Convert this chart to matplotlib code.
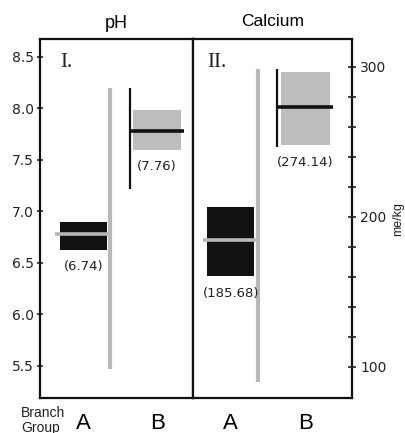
import matplotlib.pyplot as plt
from matplotlib.ticker import FixedLocator

groups = ['A', 'B']

# pH (panel I)
ph_box_low = [6.63, 7.60]
ph_box_high = [6.90, 7.98]
ph_mean_line = [6.78, 7.785]
ph_range_low = [5.47, 7.22]
ph_range_high = [8.20, 8.20]
ph_labels = ['(6.74)', '(7.76)']

# Calcium (panel II)
ca_box_low = [160.7, 248.0]
ca_box_high = [206.9, 296.4]
ca_mean_line = [184.4, 273.3]
ca_range_low = [90.0, 246.5]
ca_range_high = [298.7, 298.7]
ca_labels = ['(185.68)', '(274.14)']
ca_minor = [120, 140, 160, 180, 220, 240, 260, 280]

SANS = 'Liberation Sans'
NUM = 'DejaVu Sans'
BLACK = '#111111'
GRAY = '#bdbdbd'
LGRAY = '#b8b8b8'

fig = plt.figure(figsize=(4.05, 4.33), dpi=100)
ax1 = fig.add_axes([0.0988, 0.081, 0.3778, 0.828])
ax2 = fig.add_axes([0.4765, 0.081, 0.3926, 0.828])

# layout in axes x (0..1): box left/right, whisker x, mean line left/right
layout1 = {'box': [(0.131, 0.438), (0.608, 0.922)],
           'whisk': [0.458, 0.588],
           'line': [(0.098, 0.458), (0.588, 0.941)]}
layout2 = {'box': [(0.090, 0.386), (0.553, 0.862)],
           'whisk': [0.410, 0.526],
           'line': [(0.063, 0.409), (0.526, 0.883)]}

box_colors = [BLACK, GRAY]
line_colors = [LGRAY, BLACK]
whisk_colors = [LGRAY, BLACK]
whisk_widths = [3.0, 1.6]
line_widths = [2.6, 2.6]


def draw_panel(ax, lay, lo, hi, mean, rlo, rhi, labels):
    ax.set_xlim(0, 1)
    centers = []
    for i in range(len(groups)):
        x0, x1 = lay['box'][i]
        c = (x0 + x1) / 2
        centers.append(c)
        ax.bar(c, hi[i] - lo[i], bottom=lo[i], width=x1 - x0,
               color=box_colors[i], zorder=2)
        ax.vlines(lay['whisk'][i], rlo[i], rhi[i], color=whisk_colors[i],
                  lw=whisk_widths[i], zorder=3)
        l0, l1 = lay['line'][i]
        ax.hlines(mean[i], l0, l1, color=line_colors[i], lw=line_widths[i],
                  zorder=4)
        ax.annotate(labels[i], (c, lo[i]), xytext=(0, -12.5),
                    textcoords='offset points', ha='center', va='center',
                    fontsize=9.5, family=NUM, color='#222222')
    ax.set_xticks(centers)
    ax.set_xticklabels(groups, fontsize=16, family=SANS)
    ax.tick_params(axis='x', length=0, pad=10.5)
    for s in ax.spines.values():
        s.set_linewidth(1.6)
        s.set_color(BLACK)


draw_panel(ax1, layout1, ph_box_low, ph_box_high, ph_mean_line,
           ph_range_low, ph_range_high, ph_labels)
draw_panel(ax2, layout2, ca_box_low, ca_box_high, ca_mean_line,
           ca_range_low, ca_range_high, ca_labels)

ax1.set_ylim(5.19, 8.67)
ax1.set_yticks([5.5, 6.0, 6.5, 7.0, 7.5, 8.0, 8.5])
ax1.set_yticklabels(['5.5', '6.0', '6.5', '7.0', '7.5', '8.0', '8.5'],
                    family=NUM, fontsize=10)
ax1.tick_params(axis='y', direction='inout', length=5, width=1.1, pad=2,
                colors=BLACK, labelcolor='#222222')

ax2.set_ylim(79.3, 318.3)
ax2.yaxis.tick_right()
ax2.yaxis.set_label_position('right')
ax2.set_yticks([100, 200, 300])
ax2.set_yticklabels(['100', '200', '300'], family=NUM, fontsize=10)
ax2.yaxis.set_minor_locator(FixedLocator(ca_minor))
ax2.tick_params(axis='y', which='both', direction='inout', length=6,
                width=1.1, pad=3, colors=BLACK, labelcolor='#222222')
ax2.set_ylabel('me/kg', family=SANS, fontsize=9, labelpad=4, color='#222222')

ax1.set_title('pH', family=SANS, fontsize=13, pad=8)
ax2.set_title('Calcium', family=SANS, fontsize=12.5, pad=10)

ax1.text(0.13, 0.923, 'I.', transform=ax1.transAxes, family='Liberation Serif',
         fontsize=15, ha='left', va='baseline', color='#222222')
ax2.text(0.088, 0.923, 'II.', transform=ax2.transAxes,
         family='Liberation Serif', fontsize=15, ha='left', va='baseline',
         color='#222222')

fig.text(21 / 405, 1 - 406 / 433, 'Branch\nGroup', family=SANS, fontsize=10,
         ha='left', va='top', linespacing=1.05, color='#222222')

fig.savefig('out.png', dpi=100)
